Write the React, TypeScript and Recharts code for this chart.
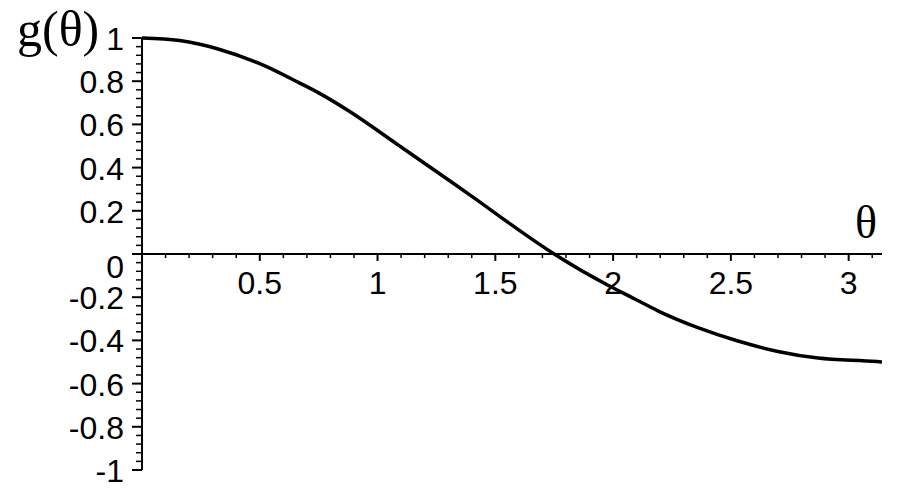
import { LineChart, Line, XAxis, YAxis, ReferenceLine } from 'recharts';

// curve
const thetaValues = [0, 0.16, 0.33, 0.5, 0.67, 0.75, 0.88, 1.09, 1.3, 1.42, 1.56, 1.75, 1.98, 2.09, 2.19, 2.36, 2.53, 2.7, 2.87, 3.12, 3.1416];
const gValues = [1, 0.988, 0.947, 0.881, 0.791, 0.746, 0.661, 0.503, 0.344, 0.252, 0.142, 0, -0.146, -0.207, -0.263, -0.341, -0.403, -0.451, -0.482, -0.498, -0.5];

const xMajorTicks = [0.5, 1, 1.5, 2, 2.5, 3];
const xMajorLabels = ['0.5', '1', '1.5', '2', '2.5', '3'];
const xMinorTicks = [0.1, 0.2, 0.3, 0.4, 0.6, 0.7, 0.8, 0.9, 1.1, 1.2, 1.3, 1.4, 1.6, 1.7, 1.8, 1.9, 2.1, 2.2, 2.3, 2.4, 2.6, 2.7, 2.8, 2.9, 3.1];

const yMajorTicks = [-1, -0.8, -0.6, -0.4, -0.2, 0, 0.2, 0.4, 0.6, 0.8, 1];
const yMajorLabels = ['-1', '-0.8', '-0.6', '-0.4', '-0.2', '0', '0.2', '0.4', '0.6', '0.8', '1'];
const yMinorTicks = [
  -0.96, -0.92, -0.88, -0.84, -0.76, -0.72, -0.68, -0.64, -0.56, -0.52, -0.48, -0.44,
  -0.36, -0.32, -0.28, -0.24, -0.16, -0.12, -0.08, -0.04, 0.04, 0.08, 0.12, 0.16,
  0.24, 0.28, 0.32, 0.36, 0.44, 0.48, 0.52, 0.56, 0.64, 0.68, 0.72, 0.76, 0.84, 0.88, 0.92, 0.96,
];

const data = thetaValues.map((t, i) => ({ t, g: gValues[i] }));
const yTicks = [...yMajorTicks, ...yMinorTicks].sort((a, b) => a - b);

const TICK_FONT = '"Liberation Sans", Arial, sans-serif';
const SERIF = '"Liberation Serif", "Times New Roman", serif';

function YTick(props: any) {
  const { x, y, payload } = props;
  const idx = yMajorTicks.indexOf(payload.value);
  if (idx < 0) {
    return <line x1={x - 6} y1={y} x2={x} y2={y} stroke="#000" strokeWidth={1.5} />;
  }
  const label = yMajorLabels[idx];
  const dy = label === '0' ? 24 : 12;
  return (
    <g>
      <line x1={x - 10} y1={y} x2={x} y2={y} stroke="#000" strokeWidth={2} />
      <text x={x - 18} y={y + dy} textAnchor="end" fontSize={32} fontFamily={TICK_FONT} fill="#000">
        {label}
      </text>
    </g>
  );
}

function XTickLabel(props: any) {
  const { viewBox, text } = props;
  return (
    <text x={viewBox.x + viewBox.width / 2} y={viewBox.y + 40} textAnchor="middle" fontSize={32} fontFamily={TICK_FONT} fill="#000">
      {text}
    </text>
  );
}

export default function App() {
  return (
    <div style={{ position: 'absolute', left: 0, top: 0, width: 900, height: 490, background: '#fff' }}>
      <LineChart width={900} height={490} data={data} margin={{ top: 38, right: 18, bottom: 20, left: 0 }}>
        <XAxis dataKey="t" type="number" domain={[0, Math.PI]} allowDataOverflow hide />
        <YAxis
          type="number"
          domain={[-1, 1]}
          ticks={yTicks}
          interval={0}
          width={142}
          tickSize={0}
          tickMargin={0}
          tickLine={false}
          tick={<YTick />}
          axisLine={{ stroke: '#000', strokeWidth: 2 }}
        />
        <ReferenceLine y={0} stroke="#000" strokeWidth={2} />
        {xMinorTicks.map((v) => (
          <ReferenceLine key={`m${v}`} segment={[{ x: v, y: 0 }, { x: v, y: -0.019 }]} stroke="#000" strokeWidth={1.5} />
        ))}
        {xMajorTicks.map((v, i) => (
          <ReferenceLine
            key={`M${v}`}
            segment={[{ x: v, y: 0 }, { x: v, y: -0.032 }]}
            stroke="#000"
            strokeWidth={2}
            label={<XTickLabel text={xMajorLabels[i]} />}
          />
        ))}
        <Line dataKey="g" type="monotone" stroke="#000" strokeWidth={3.5} dot={false} isAnimationActive={false} />
      </LineChart>
      <svg width={900} height={490} style={{ position: 'absolute', left: 0, top: 0, pointerEvents: 'none' }}>
        <text x={17} y={46} fontSize={50} fontFamily={SERIF} fill="#000">g(θ)</text>
        <text x={866} y={238} textAnchor="middle" fontSize={46} fontFamily={SERIF} fill="#000">θ</text>
      </svg>
    </div>
  );
}
